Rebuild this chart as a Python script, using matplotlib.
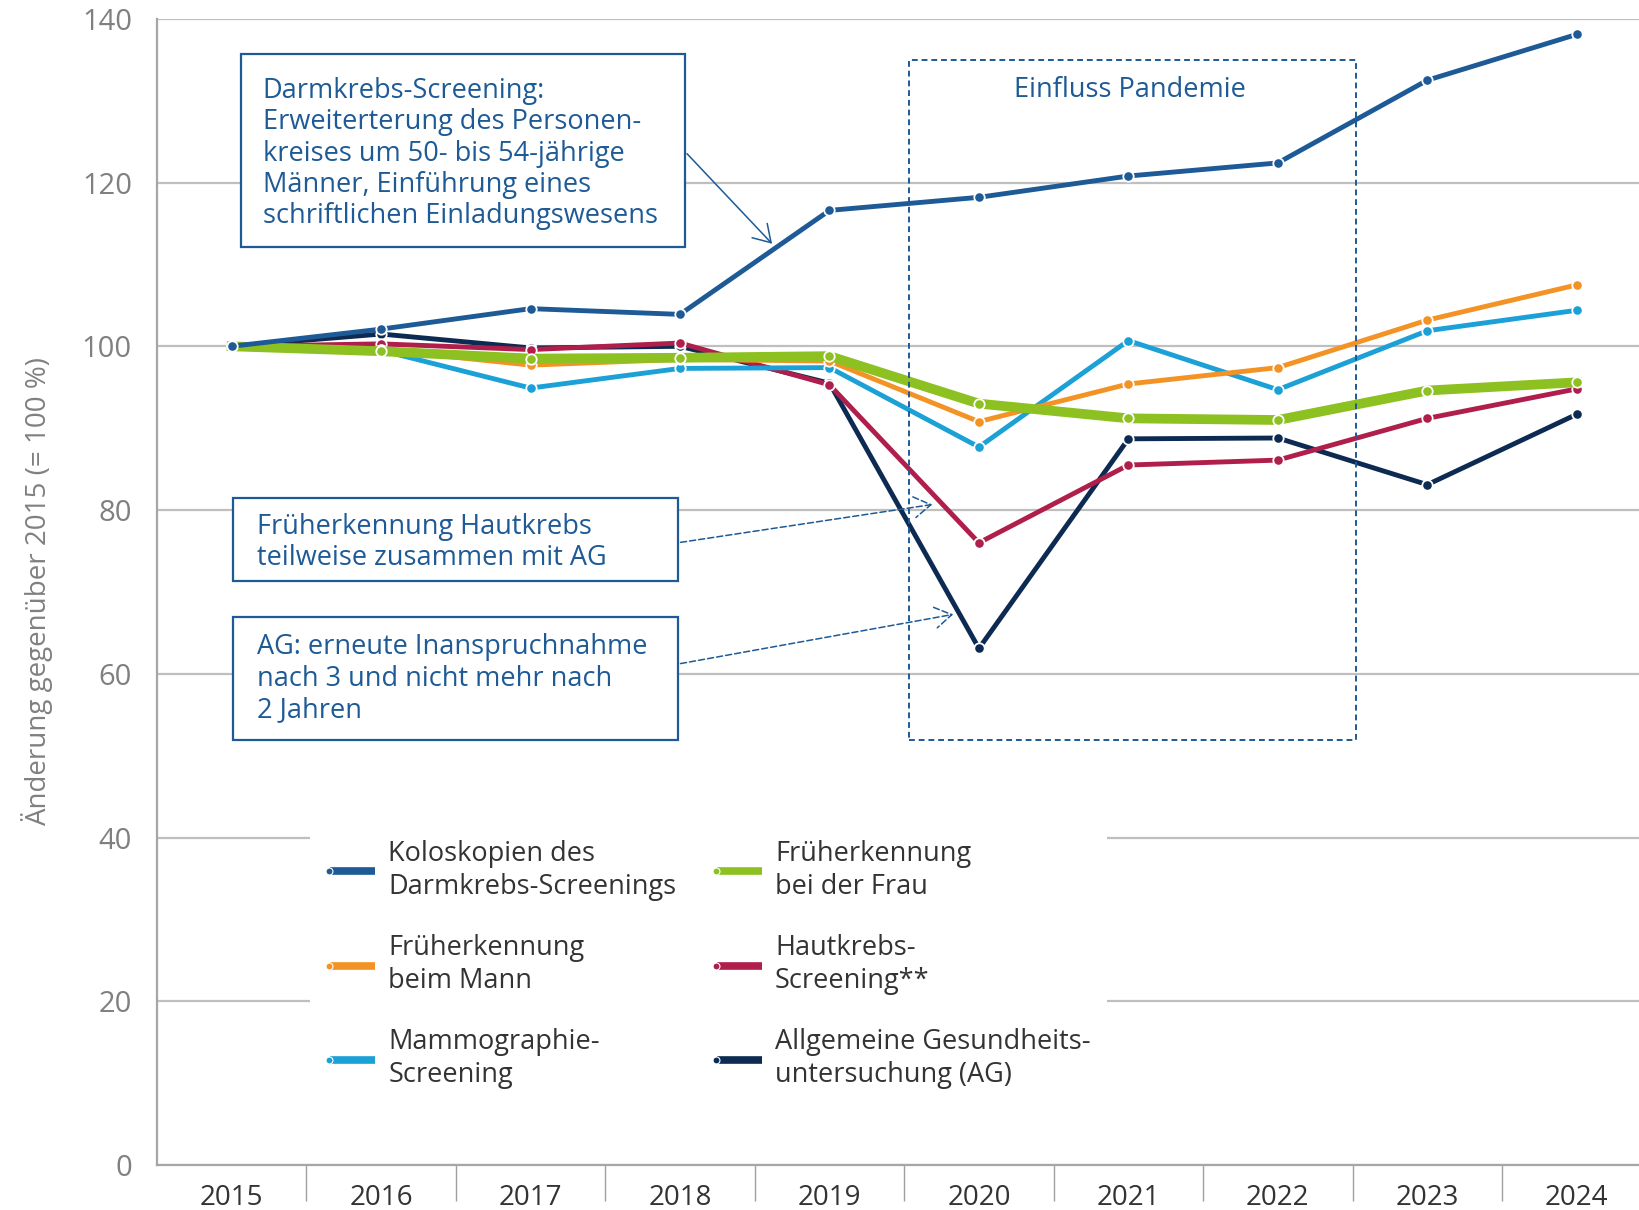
import matplotlib
matplotlib.use("Agg")
import matplotlib.pyplot as plt
from matplotlib.patches import Rectangle, FancyArrowPatch
from matplotlib.lines import Line2D
from matplotlib.legend_handler import HandlerBase

plt.rcParams['font.family'] = ['Open Sans', 'DejaVu Sans']

# data (index 2015 = 100)
years = ['2015', '2016', '2017', '2018', '2019', '2020', '2021', '2022', '2023', '2024']

koloskopien = [100, 102.1, 104.6, 103.9, 116.6, 118.2, 120.8, 122.4, 132.5, 138.1]
frueh_mann = [100, 99.6, 97.7, 98.4, 98.2, 90.8, 95.4, 97.4, 103.2, 107.5]
mammographie = [100, 99.5, 94.9, 97.3, 97.4, 87.7, 100.7, 94.7, 101.9, 104.4]
frueh_frau = [100, 99.4, 98.5, 98.6, 98.8, 93.0, 91.2, 91.0, 94.6, 95.6]
hautkrebs = [100, 100.3, 99.6, 100.4, 95.3, 76.0, 85.5, 86.1, 91.2, 94.8]
ag = [100, 101.5, 99.8, 100.0, 95.5, 63.1, 88.7, 88.8, 83.1, 91.7]

labels = ['Koloskopien des\nDarmkrebs-Screenings',
          'Früherkennung\nbeim Mann',
          'Mammographie-\nScreening',
          'Früherkennung\nbei der Frau',
          'Hautkrebs-\nScreening**',
          'Allgemeine Gesundheits-\nuntersuchung (AG)']

c_kolo = '#1d5a96'
c_mann = '#f39325'
c_mammo = '#1ba1d6'
c_frau = '#8dc021'
c_haut = '#b01e4b'
c_ag = '#0d2b52'
c_text = '#1d5a96'
c_grid = '#bfbfbf'

W, H = 1568, 1157  # coordinates measured on the shrunk reference


def fx(x):
    return x / W


def fy(y):
    return 1 - y / H


fig = plt.figure(figsize=(16.4, 12.1), dpi=100)
ax = fig.add_axes([fx(150), fy(1114), 10 * 142.9 / W, (1114 - 18) / H])

x = list(range(len(years)))
mk = dict(marker='o', markersize=7.5, markeredgecolor='white', markeredgewidth=1.3)

l_ag, = ax.plot(x, ag, color=c_ag, lw=3.5, label=labels[5], zorder=3, **mk)
l_haut, = ax.plot(x, hautkrebs, color=c_haut, lw=3.5, label=labels[4], zorder=3, **mk)
l_mammo, = ax.plot(x, mammographie, color=c_mammo, lw=3.5, label=labels[2], zorder=3, **mk)
l_mann, = ax.plot(x, frueh_mann, color=c_mann, lw=3.5, label=labels[1], zorder=3, **mk)
l_frau, = ax.plot(x, frueh_frau, color=c_frau, lw=7, label=labels[3], zorder=3, **mk)
l_kolo, = ax.plot(x, koloskopien, color=c_kolo, lw=3.5, label=labels[0], zorder=3, **mk)
for l in ax.get_lines():
    l.set_clip_on(False)

ax.set_xlim(-0.5, 9.5)
ax.set_ylim(0, 140)
ax.set_yticks(range(0, 141, 20))
ax.yaxis.grid(True, color=c_grid, lw=1.6, zorder=0)
ax.set_axisbelow(True)
ax.tick_params(axis='y', length=0, pad=18, labelsize=21, labelcolor='#808080')

ax.set_xticks(x)
ax.set_xticklabels(years)
ax.set_xticks([i + 0.5 for i in range(9)], minor=True)
ax.tick_params(axis='x', which='major', length=0, pad=14, labelsize=20, labelcolor='#333333')
ax.tick_params(axis='x', which='minor', length=26, width=1, color='#a0a0a0')

for s in ['top', 'right']:
    ax.spines[s].set_visible(False)
ax.spines['left'].set_color('#a6a6a6')
ax.spines['bottom'].set_color('#a6a6a6')
ax.spines['left'].set_linewidth(1.6)
ax.spines['bottom'].set_linewidth(1.6)

ax.set_ylabel('Änderung gegenüber 2015 (= 100 %)', fontsize=20, color='#808080', labelpad=21)

# annotation boxes
def box(x0, y0, x1, y1, ls='-'):
    r = Rectangle((fx(x0), fy(y1)), fx(x1) - fx(x0), fy(y0) - fy(y1), transform=fig.transFigure,
                  fill=True, facecolor='white', edgecolor=c_text, lw=1.6, ls=ls, zorder=5)
    fig.patches.append(r)


def arrow(x0, y0, x1, y1, ls='-'):
    a = FancyArrowPatch((fx(x0), fy(y0)), (fx(x1), fy(y1)), transform=fig.transFigure,
                        arrowstyle='->,head_length=8,head_width=5', color=c_text, lw=1.1,
                        linestyle=ls, mutation_scale=1.5, zorder=6)
    fig.patches.append(a)


# pandemic box (dashed, no fill)
pan = Rectangle((fx(869), fy(708)), fx(1296) - fx(869), fy(57) - fy(708), transform=fig.transFigure,
                fill=False, edgecolor=c_text, lw=1.4, ls=(0, (3, 2)), zorder=4)
fig.patches.append(pan)
fig.text(fx(1080), fy(86), 'Einfluss Pandemie', fontsize=19.5, color=c_text, ha='center', va='center')

box(230, 52, 655, 236)
fig.text(fx(251), fy(147), 'Darmkrebs-Screening:\nErweiterterung des Personen-\nkreises um 50- bis 54-jährige\n'
         'Männer, Einführung eines\nschriftlichen Einladungswesens',
         fontsize=19.5, color=c_text, ha='left', va='center', linespacing=1.16, zorder=7)
arrow(655, 145, 740, 235)

box(223, 476, 648, 556)
fig.text(fx(246), fy(519), 'Früherkennung Hautkrebs\nteilweise zusammen mit AG',
         fontsize=19.5, color=c_text, ha='left', va='center', linespacing=1.16, zorder=7)
arrow(648, 519, 894, 482, ls=(0, (4, 2)))

box(223, 590, 648, 708)
fig.text(fx(246), fy(649), 'AG: erneute Inanspruchnahme\nnach 3 und nicht mehr nach\n2 Jahren',
         fontsize=19.5, color=c_text, ha='left', va='center', linespacing=1.16, zorder=7)
arrow(648, 635, 914, 587, ls=(0, (4, 2)))


# legend handle: short thick line with a dot at its left end
class LeftDot(HandlerBase):
    def create_artists(self, legend, orig_handle, xdescent, ydescent, width, height, fontsize, trans):
        y = height / 2 - ydescent
        seg = Line2D([-xdescent + 3, width - xdescent], [y, y], color=orig_handle.get_color(),
                     lw=5.5, solid_capstyle='butt', transform=trans)
        dot = Line2D([-xdescent + 2], [y], marker='o', markersize=5, color=orig_handle.get_color(),
                     markeredgecolor='white', markeredgewidth=0.8, transform=trans)
        return [seg, dot]


handles = [l_kolo, l_mann, l_mammo, l_frau, l_haut, l_ag]
leg = fig.legend(handles, [h.get_label() for h in handles], ncol=2, loc='upper left',
                 bbox_to_anchor=(fx(296), fy(788)), bbox_transform=fig.transFigure,
                 frameon=True, facecolor='white', edgecolor='none', framealpha=1, fancybox=False,
                 fontsize=19.5, handlelength=1.8, handletextpad=0.5, columnspacing=1.35,
                 labelspacing=1.25, borderpad=0.6, borderaxespad=0,
                 handler_map={type(l_kolo): LeftDot()})
for t in leg.get_texts():
    t.set_color('#333333')
    t.set_linespacing(1.2)

fig.savefig('out.png', dpi=100)
